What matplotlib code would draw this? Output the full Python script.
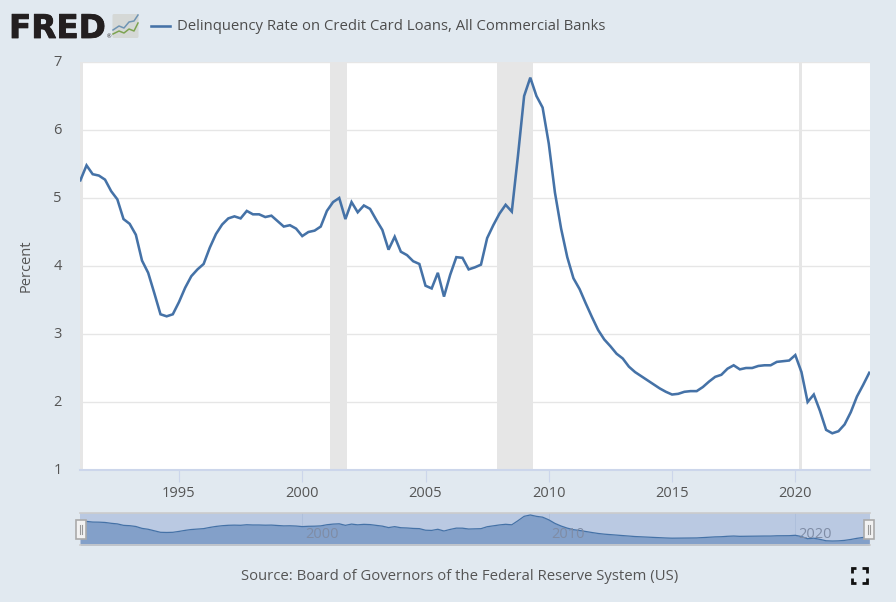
import matplotlib
matplotlib.use("Agg")
import matplotlib.pyplot as plt
from matplotlib.patches import Rectangle, FancyBboxPatch
from matplotlib.transforms import ScaledTranslation
import matplotlib.patheffects as pe

W, H = 896, 602
BG = "#e1e9f0"
LINE = "#4572a7"
TXT = "#555555"

plt.rcParams['font.family'] = ['Open Sans', 'DejaVu Sans']

# quarterly values, Q1 1991 to Q1 2023
rate = [5.26, 5.48, 5.35, 5.33,
        5.27, 5.10, 4.98, 4.69,
        4.62, 4.46, 4.08, 3.90,
        3.60, 3.29, 3.26, 3.29,
        3.47, 3.68, 3.85, 3.95,
        4.03, 4.27, 4.47, 4.61,
        4.70, 4.73, 4.70, 4.81,
        4.76, 4.76, 4.72, 4.74,
        4.66, 4.58, 4.60, 4.55,
        4.44, 4.50, 4.52, 4.58,
        4.81, 4.94, 5.00, 4.69,
        4.94, 4.79, 4.89, 4.84,
        4.68, 4.53, 4.24, 4.43,
        4.21, 4.16, 4.07, 4.03,
        3.71, 3.67, 3.90, 3.55,
        3.87, 4.13, 4.12, 3.95,
        3.98, 4.02, 4.41, 4.60,
        4.77, 4.90, 4.80, 5.62,
        6.50, 6.77, 6.50, 6.33,
        5.80, 5.08, 4.55, 4.13,
        3.82, 3.66, 3.45, 3.25,
        3.06, 2.92, 2.82, 2.71,
        2.64, 2.52, 2.44, 2.38,
        2.32, 2.26, 2.20, 2.15,
        2.11, 2.12, 2.15, 2.16,
        2.16, 2.22, 2.30, 2.37,
        2.40, 2.49, 2.54, 2.48,
        2.50, 2.50, 2.53, 2.54,
        2.54, 2.59, 2.60, 2.61,
        2.69, 2.44, 2.00, 2.11,
        1.87, 1.59, 1.54, 1.57,
        1.67, 1.85, 2.08, 2.25,
        2.43]
dates = [1991 + i / 4 for i in range(len(rate))]

recessions = [(1990.5, 1991.12), (2001.12, 2001.83), (2007.88, 2009.37), (2020.13, 2020.29)]
year_ticks = [1995, 2000, 2005, 2010, 2015, 2020]
nav_ticks = [2000, 2010, 2020]
pct_ticks = [1, 2, 3, 4, 5, 6, 7]

X_RANGE = (1990.985, 2023.03)


def box(left, top, right, bottom):
    return [left / W, 1 - bottom / H, (right - left) / W, (bottom - top) / H]


fig = plt.figure(figsize=(W / 100, H / 100), dpi=100, facecolor=BG)

# main plot
ax = fig.add_axes(box(80, 62, 870, 470))
ax.set_facecolor("white")
for s in recessions:
    ax.axvspan(s[0], s[1], color="#e6e6e6", lw=0, zorder=1)
ax.plot(dates, rate, color=LINE, lw=1.85, zorder=3, solid_joinstyle="miter")
ax.set_xlim(X_RANGE)
ax.set_ylim(1, 7)
ax.set_yticks(pct_ticks)
ax.set_xticks(year_ticks)
ax.grid(axis="y", color="#e6e6e6", lw=1, zorder=0)
ax.tick_params(axis="y", length=0, pad=13, labelsize=10.5, labelcolor=TXT)
ax.tick_params(axis="x", length=8.5, width=0.8, color="#ccd6eb", pad=3, labelsize=10.5, labelcolor=TXT)
shift = ScaledTranslation(0, 1.5 / 100, fig.dpi_scale_trans)
for lab in ax.get_yticklabels():
    lab.set_transform(lab.get_transform() + shift)
for k in ["top", "left", "right"]:
    ax.spines[k].set_visible(False)
ax.spines["bottom"].set_color("#ccd6eb")
ax.spines["bottom"].set_linewidth(1.5)
ax.set_ylabel("Percent", fontsize=10.5, color=TXT)
ax.yaxis.set_label_coords(-46 / 790, 0.5)

# navigator strip under the plot
nav = fig.add_axes(box(80, 513, 870, 545))
nav.set_facecolor("#bac9e2")
nav.fill_between(dates, rate, 0, color="#83a0c9", lw=0, zorder=2)
nav.plot(dates, rate, color=LINE, lw=0.9, zorder=3)
nav.set_xlim(X_RANGE)
nav.set_ylim(0.74, 7.17)
nav.set_yticks([])
nav.set_xticks([])
for y in nav_ticks:
    nav.axvline(y, color="#aebfdb", lw=0.7, zorder=1)
    nav.text(y + 0.12, 2.9, str(y), fontsize=10.5, color="#7f8ca5", va="center", ha="left", zorder=4)
for k in ["left", "right"]:
    nav.spines[k].set_visible(False)
for k in ["top", "bottom"]:
    nav.spines[k].set_color("#cccccc")
    nav.spines[k].set_linewidth(1.2)

# overlay in pixel coordinates for logo, legend, handles and icon
ov = fig.add_axes([0, 0, 1, 1], facecolor="none")
ov.set_xlim(0, W)
ov.set_ylim(H, 0)
ov.axis("off")

ov.text(9, 38, "FRED", fontsize=23.5, fontweight="bold", family="DejaVu Sans", color="#231f20",
        va="baseline", ha="left", path_effects=[pe.withStroke(linewidth=0.6, foreground="#231f20")])
ov.text(109, 36.5, "®", fontsize=4, color="#231f20", va="center", ha="center")
ov.add_patch(FancyBboxPatch((112.5, 14), 26, 24, boxstyle="round,pad=0,rounding_size=1.5", fc="#d5d8d6", ec="none"))
ov.plot([113, 119, 124, 129, 134, 138], [30, 26, 28, 22, 21, 15], color="#6f94b3", lw=1.1)
ov.plot([113, 119, 124, 129, 134, 138], [34, 31, 33, 29, 31, 23], color="#7da351", lw=1.1)

ov.plot([151, 170], [26, 26], color=LINE, lw=1.85)
ov.text(177, 27, "Delinquency Rate on Credit Card Loans, All Commercial Banks", fontsize=10.75,
        color="#4d4d4d", va="center", ha="left")
ov.text(460, 576, "Source: Board of Governors of the Federal Reserve System (US)", fontsize=10.72,
        color="#555555", va="center", ha="center")

for x in [80.5, 868.5]:
    ov.add_patch(Rectangle((x - 5, 519.5), 10.5, 19.5, fc="#f2f2f2", ec="#aaaaaa", lw=1.2, zorder=5))
    ov.plot([x - 1, x - 1], [525, 534], color="#999999", lw=0.8, zorder=6)
    ov.plot([x + 1.4, x + 1.4], [525, 534], color="#999999", lw=0.8, zorder=6)

# fullscreen corners
x0, x1, y0, y1 = 851.5, 866.5, 568, 582.5
for xc, dx in [(x0, 4.5), (x1, -4.5)]:
    for yc, dy in [(y0, 4.5), (y1, -4.5)]:
        ov.plot([xc + dx, xc, xc], [yc, yc, yc + dy], color="#111111", lw=2, solid_joinstyle="miter",
                solid_capstyle="butt")

fig.savefig("out.png", dpi=100, facecolor=BG)
